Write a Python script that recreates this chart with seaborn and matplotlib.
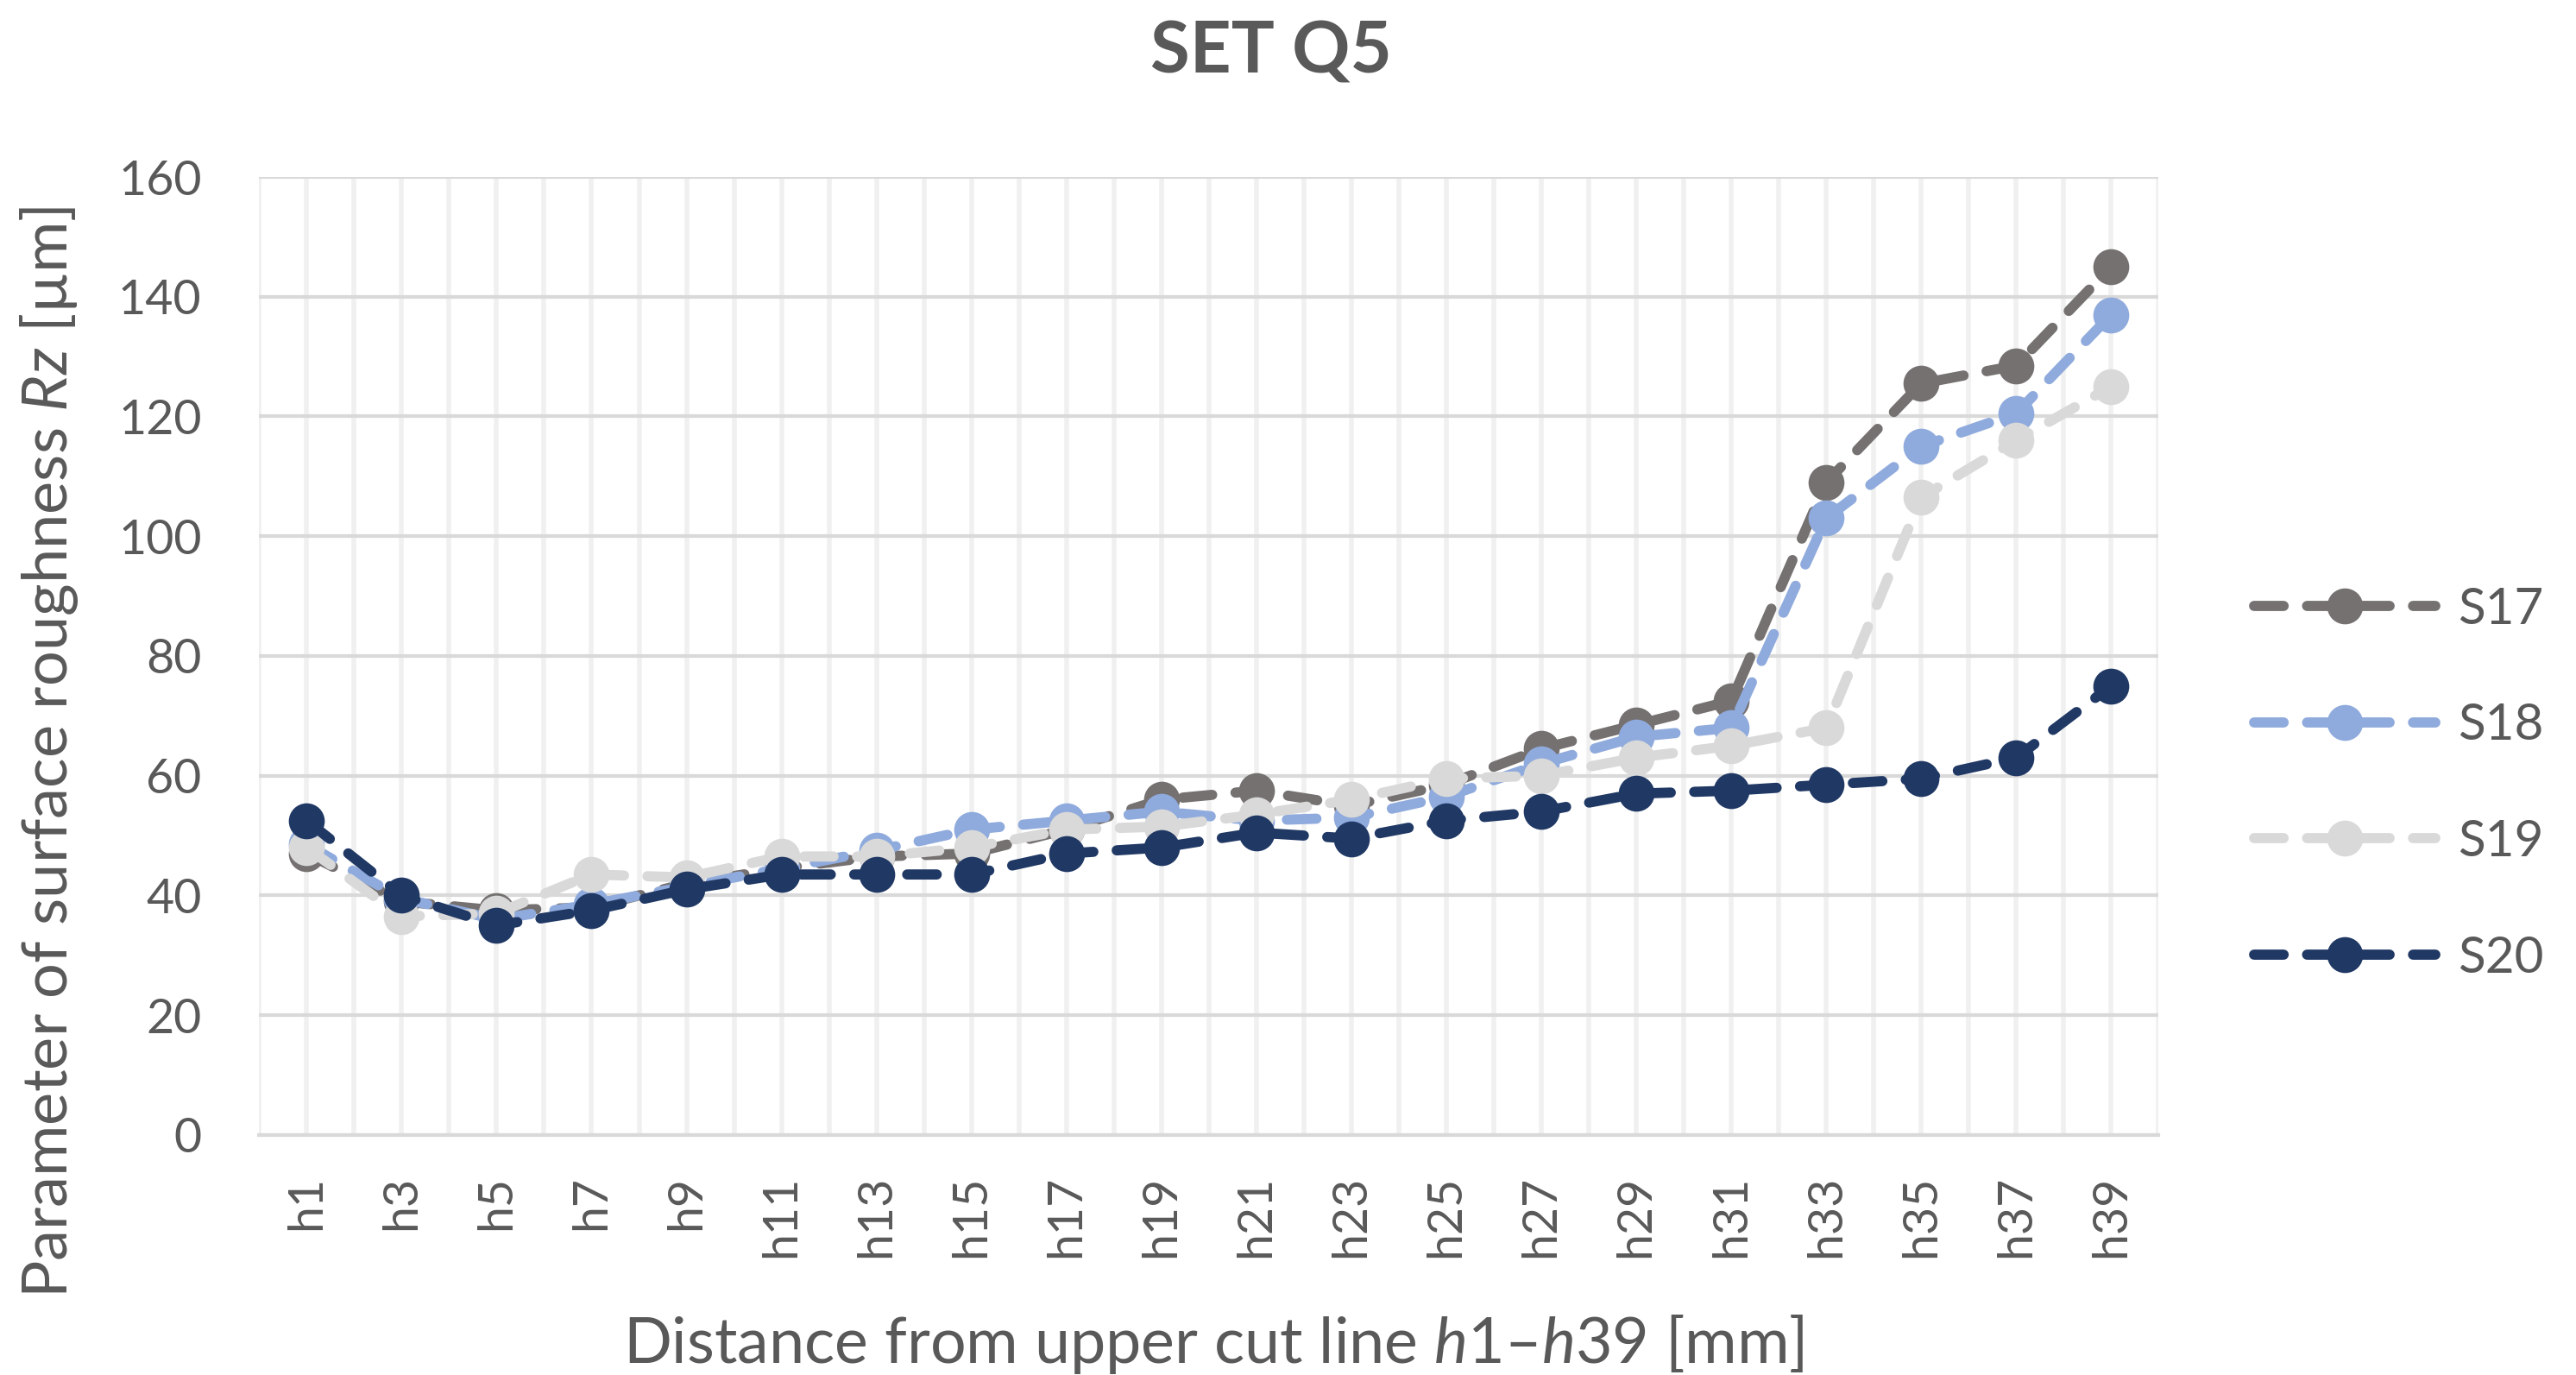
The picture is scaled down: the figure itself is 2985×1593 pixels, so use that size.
import matplotlib
matplotlib.use("Agg")
import matplotlib.pyplot as plt
import seaborn as sns
import pandas as pd
from matplotlib.lines import Line2D

# category labels (every second cut height)
cats = ["h1", "h3", "h5", "h7", "h9", "h11", "h13", "h15", "h17", "h19",
        "h21", "h23", "h25", "h27", "h29", "h31", "h33", "h35", "h37", "h39"]

# Rz values
s17 = [47, 39, 37.5, 38, 42, 44.5, 46.5, 47, 51, 56, 57.5, 55, 58.5, 64.5, 68.5, 72.5, 109, 125.5, 128.5, 145]
s18 = [48.5, 39.5, 36, 38.5, 41.5, 44.5, 47.5, 51, 52.5, 54, 52.5, 53, 56.5, 62, 66.5, 68, 103, 115, 120.5, 137]
s19 = [48, 36.5, 37, 43.5, 43, 46.5, 46.5, 48, 51, 51.5, 53.5, 56, 59.5, 60, 63, 65, 68, 106.5, 116, 125]
s20 = [52.5, 40, 35, 37.5, 41, 43.5, 43.5, 43.5, 47, 48, 50.5, 49.5, 52.5, 54, 57, 57.5, 58.5, 59.5, 63, 75]

series_names = ["S17", "S18", "S19", "S20"]
colors = {"S17": "#767171", "S18": "#8FAADC", "S19": "#D9D9D9", "S20": "#203864"}
yticks = [0, 20, 40, 60, 80, 100, 120, 140, 160]

TEXT = "#595959"

sns.set_theme(style="white")
plt.rcParams["font.family"] = ["Lato", "DejaVu Sans"]
plt.rcParams["mathtext.fontset"] = "custom"
plt.rcParams["mathtext.rm"] = "Lato"
plt.rcParams["mathtext.it"] = "Lato:italic"

df = pd.DataFrame({
    "h": cats * 4,
    "Rz": s17 + s18 + s19 + s20,
    "series": [n for n in series_names for _ in cats],
})

fig = plt.figure(figsize=(29.85, 15.93), dpi=100)
ax = fig.add_axes([0.1006, 0.1746, 0.7374, 0.6967])

dash = (2.9, 2.3)
sns.lineplot(data=df, x="h", y="Rz", hue="series", style="series",
             hue_order=series_names, style_order=series_names,
             palette=colors, dashes={n: dash for n in series_names},
             markers={n: "o" for n in series_names},
             markersize=30, markeredgewidth=0, linewidth=8.5,
             dash_capstyle="round", sort=False, legend=False, ax=ax)

ax.set_xlim(-0.5, len(cats) - 0.5)
ax.set_ylim(0, 160)
ax.set_yticks(yticks)
ax.set_xticks(range(len(cats)))
ax.set_xticklabels(cats)
ax.set_xticks([i - 0.5 for i in range(len(cats) + 1)], minor=True)

ax.set_axisbelow(True)
ax.grid(axis="y", color="#D9D9D9", linewidth=3)
ax.grid(axis="x", which="both", color="#F0F0F0", linewidth=4)

for side in ["top", "right", "left"]:
    ax.spines[side].set_visible(False)
ax.spines["bottom"].set_color("#D9D9D9")
ax.spines["bottom"].set_linewidth(3)

ax.tick_params(axis="both", which="both", length=0, labelcolor=TEXT, labelsize=40)
ax.tick_params(axis="y", pad=48)
ax.tick_params(axis="x", pad=34, labelrotation=90)
ax.set_xlabel("")
ax.set_ylabel("")

fig.text(0.4935, 0.962, "SET Q5", ha="center", va="center",
         fontsize=60, fontweight="bold", color=TEXT)
fig.text(0.471, 0.022, r"Distance from upper cut line $\mathit{h1}$–$\mathit{h39}$ [mm]",
         ha="center", va="center", fontsize=53, color=TEXT)
fig.text(0.019, 0.453, r"Parameter of surface roughness $\mathit{Rz}$ [µm]",
         ha="center", va="center", rotation=90, fontsize=52, color=TEXT)

handles = [Line2D([], [], color=colors[n], linewidth=8.5, dashes=dash,
                  dash_capstyle="round", marker="o", markersize=30,
                  markeredgewidth=0) for n in series_names]
leg = fig.legend(handles, series_names, loc="center left",
                 bbox_to_anchor=(2612 / 2985, 0.43), frameon=False,
                 fontsize=42, handlelength=3.6, handletextpad=0.45,
                 labelspacing=1.4, borderpad=0, borderaxespad=0)
for t in leg.get_texts():
    t.set_color(TEXT)

fig.savefig("out.png", dpi=100)
